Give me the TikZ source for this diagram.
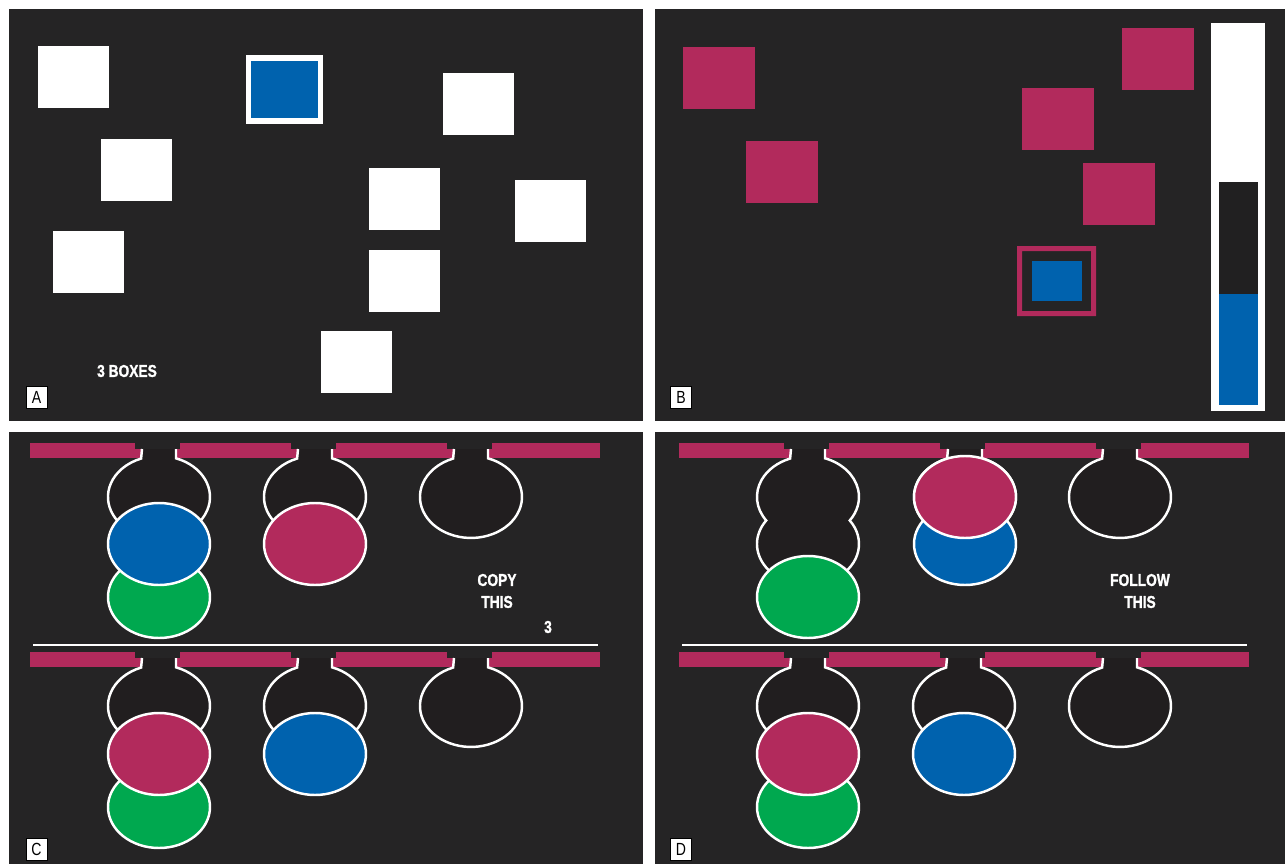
\documentclass[tikz,border=0pt]{standalone}
\usepackage{fontspec}
\setmainfont{Liberation Sans}[FakeStretch=0.8, BoldFeatures={FakeBold=1.2}]
\definecolor{panelgrey}{HTML}{252425}
\definecolor{tubegrey}{HTML}{211E1F}
\definecolor{berry}{HTML}{B22A5C}
\definecolor{cobalt}{HTML}{0062AE}
\definecolor{leaf}{HTML}{00A84F}
\tikzset{
  card/.style={fill=white},
  berrycard/.style={fill=berry},
  ball/.style={draw=white, line width=1.4pt},
  tube/.style={draw=white, line width=1.4pt, fill=tubegrey},
  caption/.style={text=white, align=center,
    font=\bfseries\fontsize{9.8}{12.5}\selectfont},
  tag/.style={fill=white, draw=black, line width=0.4pt, inner sep=0pt,
    minimum width=0.42cm, minimum height=0.44cm, text=black,
    font=\fontsize{10}{10}\selectfont}
}

\begin{document}
\begin{tikzpicture}[x=0.02cm, y=-0.02cm]
        \useasboundingbox (0,0) rectangle (1285,865);
        \fill[white] (0,0) rectangle (1285,865);
        \fill[panelgrey] (9,9) rectangle (643,421);
        \fill[panelgrey] (655,9) rectangle (1285,421);
        \fill[panelgrey] (9,432) rectangle (643,864);
        \fill[panelgrey] (655,432) rectangle (1285,864);

        % A
        \foreach \x/\y in {38/46, 101/139, 53/231, 443/73, 369/168,
                           515/180, 369/250, 321/331}
          \fill[card] (\x,\y) rectangle ++(71,62);
        \fill[white] (246,55) rectangle (323,124);
        \fill[cobalt] (251,61) rectangle (318,118);
        \node[caption] (boxcount) at (127,371) {3 BOXES};

        % B
        \foreach \x/\y in {683/47, 746/141, 1022/88, 1122/28, 1083/163}
          \fill[berrycard] (\x,\y) rectangle ++(72,62);
        \fill[berry, even odd rule] (1017,246) rectangle (1096,316)
          (1022,251) rectangle (1091,311);
        \fill[cobalt] (1032,261) rectangle (1082,301);
        \fill[white] (1211,23) rectangle (1265,411);
        \fill[panelgrey!90!black] (1219,182) rectangle (1258,294);
        \fill[cobalt] (1219,294) rectangle (1258,405);

        % C and D racks
        \foreach \dx in {0,649}
          \foreach \dy in {0,209} {
            \begin{scope}[shift={(\dx,\dy)}]
              \foreach \a/\b in {30/135, 180/291, 336/447, 492/600}
                \fill[berry] (\a,443) rectangle (\b,449);
              \foreach \a/\b in {30/142, 175/298, 331/454, 487/600}
                \fill[berry] (\a,449) rectangle (\b,458);
            \end{scope}
          }

        % C top
        \foreach \c in {159,315,471}
          \draw[tube] (\c+17,449) -- (\c+17,458.3)
            arc[start angle=-70.5, end angle=249.5, x radius=51, y radius=41]
            -- (\c-17,449);
        \draw[ball, fill=leaf] (159,597) ellipse [x radius=51, y radius=41];
        \draw[ball, fill=cobalt] (159,544) ellipse [x radius=51, y radius=41];
        \draw[ball, fill=berry] (315,544) ellipse [x radius=51, y radius=41];
        \node[caption] (copynote) at (497,591) {COPY\\THIS};
        \node[caption] (copycount) at (548,627) {3};
        \draw[white, line width=1.2pt] (33,645) -- (598,645);

        % D top
        \draw[tube] (825,449) -- (825,458.3)
          arc[start angle=-70.5, end angle=35, x radius=51, y radius=41]
          arc[start angle=-35, end angle=215, x radius=51, y radius=41]
          arc[start angle=145, end angle=249.5, x radius=51, y radius=41]
          -- (791,449);
        \foreach \c in {965,1120}
          \draw[tube] (\c+17,449) -- (\c+17,458.3)
            arc[start angle=-70.5, end angle=249.5, x radius=51, y radius=41]
            -- (\c-17,449);
        \draw[ball, fill=leaf] (808,597) ellipse [x radius=51, y radius=41];
        \draw[ball, fill=cobalt] (965,544) ellipse [x radius=51, y radius=41];
        \draw[ball, fill=berry] (965,497) ellipse [x radius=51, y radius=41];
        \node[caption] (follownote) at (1140,591) {FOLLOW\\THIS};
        \draw[white, line width=1.2pt] (682,645) -- (1247,645);

        % C and D bottom
        \foreach \dx in {0,649} {
          \begin{scope}[shift={(\dx,209)}]
            \foreach \c in {159,315,471}
              \draw[tube] (\c+17,449) -- (\c+17,458.3)
                arc[start angle=-70.5, end angle=249.5, x radius=51, y radius=41]
                -- (\c-17,449);
            \draw[ball, fill=leaf] (159,598) ellipse [x radius=51, y radius=41];
            \draw[ball, fill=berry] (159,545) ellipse [x radius=51, y radius=41];
            \draw[ball, fill=cobalt] (315,545) ellipse [x radius=51, y radius=41];
          \end{scope}
        }

        \node[tag] (tagA) at (36.5,397) {A};
        \node[tag] (tagB) at (681,397) {B};
        \node[tag] (tagC) at (36.5,849) {C};
        \node[tag] (tagD) at (681,849) {D};
      \end{tikzpicture}
\end{document}
